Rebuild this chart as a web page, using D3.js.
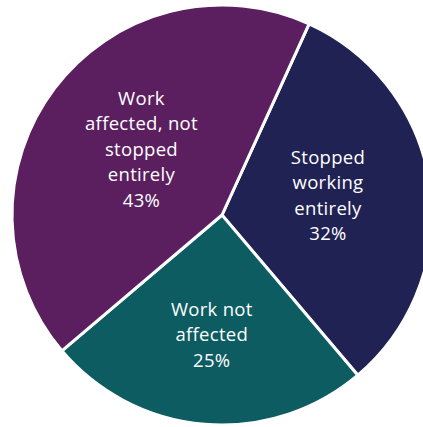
<!DOCTYPE html>
<html>
<head>
<meta charset="utf-8">
<script src="https://cdn.jsdelivr.net/npm/d3@7"></script>
<style>
  html, body { margin: 0; padding: 0; background: #ffffff; }
  svg { display: block; }
</style>
</head>
<body>
<svg id="chart" width="423" height="427"></svg>
<script>
// Share of respondents by how their work was affected
const categories = ["Stopped working entirely", "Work not affected", "Work affected, not stopped entirely"];
const values = [32, 25, 43];
const labelLines = [
  ["Stopped", "working", "entirely"],
  ["Work not", "affected"],
  ["Work", "affected, not", "stopped", "entirely"]
];
const colors = ["#1f2253", "#0c5c62", "#5b1f5f"];

const svg = d3.select("#chart");
const cx = 222, cy = 215, radius = 210;
const g = svg.append("g").attr("transform", `translate(${cx},${cy})`);

const startDeg = 24.5;
const pie = d3.pie()
  .value(d => d.value)
  .sort(null)
  .startAngle(startDeg * Math.PI / 180)
  .endAngle((startDeg + 360) * Math.PI / 180);

const data = categories.map((c, i) => ({ name: c, value: values[i], lines: labelLines[i], color: colors[i] }));
const arcs = pie(data);

const arc = d3.arc().innerRadius(0).outerRadius(radius);

g.selectAll("path.slice")
  .data(arcs)
  .join("path")
  .attr("class", "slice")
  .attr("d", arc)
  .attr("fill", d => d.data.color)
  .attr("stroke", "#ffffff")
  .attr("stroke-width", 3)
  .attr("stroke-linejoin", "miter");

// label distance from the centre, per slice
const labelRadius = [107, 125, 101];
const lineHeight = 25.5;

arcs.forEach((a, i) => {
  const mid = (a.startAngle + a.endAngle) / 2;
  const r = labelRadius[i];
  const x = Math.sin(mid) * r;
  const y = -Math.cos(mid) * r;
  const lines = a.data.lines.concat([a.data.value + "%"]);
  const top = y - (lines.length - 1) * lineHeight / 2;
  const t = g.append("text")
    .attr("text-anchor", "middle")
    .attr("fill", "#ffffff")
    .attr("font-family", "'Open Sans', Lato, sans-serif")
    .attr("font-weight", 500)
    .attr("font-size", 18.5)
    .attr("letter-spacing", 0.3);
  lines.forEach((ln, k) => {
    t.append("tspan")
      .attr("x", x)
      .attr("y", top + k * lineHeight)
      .attr("dy", "0.1em")
      .text(ln);
  });
});
</script>
</body>
</html>
